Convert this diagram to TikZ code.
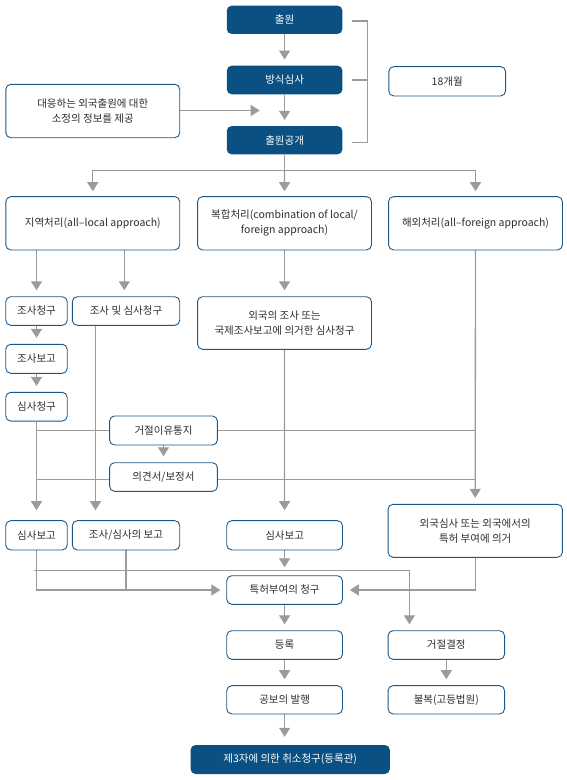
\documentclass[tikz,border=0pt]{standalone}
\usepackage{fontspec}
\setmainfont{Noto Sans CJK KR}
\usetikzlibrary{arrows.meta,backgrounds}
\definecolor{dkblue}{RGB}{11,80,131}
\definecolor{bdblue}{RGB}{28,88,135}
\definecolor{lngray}{RGB}{155,155,155}
\definecolor{txtgray}{RGB}{45,45,45}
\tikzset{
 base/.style={rectangle, rounded corners=5pt, inner sep=0pt, align=center, font=\fontsize{10.5}{15}\selectfont},
 dk/.style={base, fill=dkblue, text=white},
 lt/.style={base, draw=bdblue, line width=0.9pt, fill=white, text=txtgray},
 conn/.style={draw=lngray, line width=1.3pt},
 arr/.style={conn, -{Triangle[length=9pt,width=11pt]}, shorten >=6pt},
}
\begin{document}
\begin{tikzpicture}[x=1pt,y=-1pt]
\useasboundingbox (0,0) rectangle (567,780);
% nodes
\node[dk, minimum width=115.7pt, minimum height=28.3pt] (chul) at (284.6,19.8) {출원};
\node[dk, minimum width=115.7pt, minimum height=28.6pt] (bangsik) at (284.6,80) {방식심사};
\node[dk, minimum width=115.7pt, minimum height=28.3pt] (gonggae) at (284.6,140.2) {출원공개};
\node[lt, minimum width=116.8pt, minimum height=29.3pt] (m18) at (447.2,81.3) {18개월};
\node[lt, minimum width=173.9pt, minimum height=53.4pt] (daeung) at (92.8,111) {대응하는 외국출원에 대한\\소정의 정보를 제공};
\node[lt, minimum width=173.9pt, minimum height=53.3pt] (jiyeok) at (92.8,223.3) {지역처리(all–local approach)};
\node[lt, minimum width=173.9pt, minimum height=53.3pt] (bokhap) at (284.5,223.3) {복합처리(combination of local/\\foreign approach)};
\node[lt, minimum width=173.9pt, minimum height=53.3pt] (haeoe) at (475.5,223.3) {해외처리(all–foreign approach)};
\node[lt, minimum width=61.5pt, minimum height=28.6pt] (josachung) at (36.5,311) {조사청구};
\node[lt, minimum width=107.4pt, minimum height=28.6pt] (josasim) at (126,311) {조사 및 심사청구};
\node[lt, minimum width=173.9pt, minimum height=52.6pt] (oeguk1) at (284.5,323) {외국의 조사 또는\\국제조사보고에 의거한 심사청구};
\node[lt, minimum width=61.5pt, minimum height=29pt] (josabogo) at (36.5,358.8) {조사보고};
\node[lt, minimum width=61.5pt, minimum height=28.7pt] (simsachung) at (36.5,406.7) {심사청구};
\node[lt, minimum width=107.8pt, minimum height=29pt] (geojeol) at (163.5,430.5) {거절이유통지};
\node[lt, minimum width=107.8pt, minimum height=28.6pt] (uigyeon) at (163.5,477) {의견서/보정서};
\node[lt, minimum width=61.5pt, minimum height=29.3pt] (simbogo1) at (36.5,535.3) {심사보고};
\node[lt, minimum width=107.4pt, minimum height=29.3pt] (josasimbogo) at (126,535.3) {조사/심사의 보고};
\node[lt, minimum width=115.7pt, minimum height=29.3pt] (simbogo2) at (284.6,535.3) {심사보고};
\node[lt, minimum width=174.3pt, minimum height=53pt] (oeguk2) at (475.2,530.8) {외국심사 또는 외국에서의\\특허 부여에 의거};
\node[lt, minimum width=115.7pt, minimum height=28.6pt] (teukheo) at (284.6,590) {특허부여의 청구};
\node[lt, minimum width=115.7pt, minimum height=28.6pt] (deungrok) at (284.6,645) {등록};
\node[lt, minimum width=116.5pt, minimum height=28.6pt] (geojeolgyeol) at (446.3,645) {거절결정};
\node[lt, minimum width=115.7pt, minimum height=28.3pt] (gongbo) at (284.6,699.8) {공보의 발행};
\node[lt, minimum width=116.5pt, minimum height=28.3pt] (bulbok) at (446.3,699.8) {불복(고등법원)};
\node[dk, minimum width=199.3pt, minimum height=29pt] (je3) at (290.2,759.5) {제3자에 의한 취소청구(등록관)};
% connectors
\begin{scope}[on background layer]
\fill[white] (0,0) rectangle (567,780);
\draw[arr] (chul) -- (bangsik);
\draw[arr] (bangsik) -- (gonggae);
\coordinate (pin) at (259.7,110.5);
\draw[arr, shorten >=0pt] (daeung.east |- pin) -- (pin);
\coordinate (b1) at (352,21);
\coordinate (b2) at (352,80);
\coordinate (b3) at (352,142.5);
\coordinate (bc) at (367.8,80);
\draw[conn] (b1) -| (bc) |- (b3);
\draw[conn] (b2) -- (bc);
\coordinate (sp) at (284.6,170.7);
\draw[conn] (gonggae) -- (sp);
\draw[arr, shorten >=5pt] (sp) -| (jiyeok);
\draw[arr, shorten >=5pt] (sp) -| (haeoe);
\draw[arr, shorten >=5pt] (sp) -- (bokhap);
\coordinate (kx) at (124.3,0);
\draw[arr] (jiyeok.south -| josachung) -- (josachung);
\draw[arr] (jiyeok.south -| kx) -- (kx |- josasim.north);
\draw[arr] (bokhap) -- (oeguk1);
\draw[arr] (josachung) -- (josabogo);
\draw[arr] (josabogo) -- (simsachung);
\draw[arr, shorten >=10pt] (simsachung) -- (simbogo1);
\coordinate (jx) at (95.5,0);
\draw[arr, shorten >=10pt] (josasim.south -| jx) -- (jx |- josasimbogo.north);
\draw[arr, shorten >=10pt] (oeguk1) -- (simbogo2);
\draw[arr] (haeoe) -- (oeguk2);
\draw[conn] (simsachung.south |- geojeol) -- (haeoe.south |- geojeol);
\draw[arr] (geojeol) -- (uigyeon);
\coordinate (uy) at (0,479.3);
\draw[conn] (simsachung.south |- uy) -- (haeoe.south |- uy);
\draw[arr] (simbogo1) |- (teukheo);
\draw[conn] (josasimbogo) -- (josasimbogo |- teukheo);
\coordinate (rj) at (409.4,570.2);
\coordinate (rs) at (34.3,570.2);
\draw[arr] (rs) -- (rj) -- (rj |- geojeolgyeol.north);
\draw[arr, shorten >=8pt] (simbogo2) -- (teukheo);
\draw[arr, shorten >=7pt] (oeguk2) |- (teukheo);
\draw[arr] (teukheo) -- (deungrok);
\draw[arr] (deungrok) -- (gongbo);
\draw[arr, shorten >=8pt] (gongbo) -- (gongbo |- je3.north);
\draw[arr] (geojeolgyeol) -- (bulbok);
\end{scope}
\end{tikzpicture}
\end{document}
